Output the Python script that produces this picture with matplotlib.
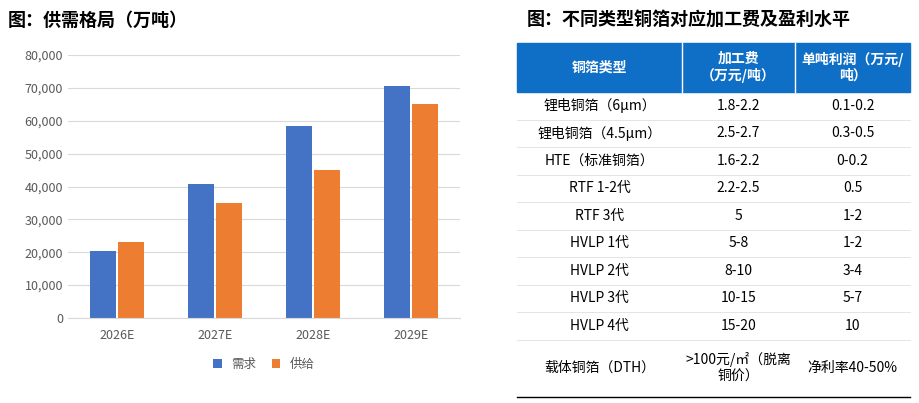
import matplotlib
matplotlib.use("Agg")
import matplotlib.pyplot as plt
import numpy as np

plt.rcParams['font.family'] = ['Noto Sans CJK SC', 'DejaVu Sans']

years = ['2026E', '2027E', '2028E', '2029E']
demand = [20500, 40700, 58300, 70700]
supply = [23200, 35000, 45000, 65000]

header = ['铜箔类型', '加工费\n（万元/吨）', '单吨利润（万元/\n吨）']
rows = [
    ['锂电铜箔（6μm）', '1.8-2.2', '0.1-0.2'],
    ['锂电铜箔（4.5μm）', '2.5-2.7', '0.3-0.5'],
    ['HTE（标准铜箔）', '1.6-2.2', '0-0.2'],
    ['RTF 1-2代', '2.2-2.5', '0.5'],
    ['RTF 3代', '5', '1-2'],
    ['HVLP 1代', '5-8', '1-2'],
    ['HVLP 2代', '8-10', '3-4'],
    ['HVLP 3代', '10-15', '5-7'],
    ['HVLP 4代', '15-20', '10'],
    ['载体铜箔（DTH）', '>100元/㎡（脱离\n铜价）', '净利率40-50%'],
]

W, H = 919, 403
fig = plt.figure(figsize=(W / 100, H / 100), dpi=100)

# bar chart
ax = fig.add_axes([68 / W, 1 - 318 / H, (460 - 68) / W, (318 - 55) / H])
x = np.arange(len(years))
bw = 0.27
ax.bar(x - bw / 2 - 0.01, demand, bw, color='#4472c4', label='需求')
ax.bar(x + bw / 2 + 0.01, supply, bw, color='#ed7d31', label='供给')
ax.set_ylim(0, 80000)
ax.set_xlim(-0.5, 3.5)
ax.set_yticks(range(0, 80001, 10000))
ax.set_yticklabels([f'{v:,}' for v in range(0, 80001, 10000)])
ax.set_xticks(x)
ax.set_xticklabels(years)
ax.tick_params(length=0, labelsize=9, colors='#595959')
ax.tick_params(axis='x', pad=8)
ax.grid(axis='y', color='#d9d9d9', lw=0.8)
ax.set_axisbelow(True)
for s in ['top', 'right', 'left']:
    ax.spines[s].set_visible(False)
ax.spines['bottom'].set_color('#d9d9d9')
ax.legend(loc='upper center', bbox_to_anchor=(0.5, -0.11), ncol=2, frameon=False,
          fontsize=9, handlelength=0.7, handleheight=0.7, columnspacing=1.2,
          labelcolor='#595959')

fig.text(8 / W, 1 - 20 / H, '图：供需格局（万吨）', fontsize=13, fontweight='bold', va='center')
fig.text(527 / W, 1 - 20 / H, '图：不同类型铜箔对应加工费及盈利水平', fontsize=13,
         fontweight='bold', va='center')

# table
tx = fig.add_axes([0, 0, 1, 1])
tx.set_xlim(0, W)
tx.set_ylim(H, 0)
tx.axis('off')
cols = [517, 682, 795, 910]
top, head_b, row_h = 43, 92, 27.5
tx.add_patch(plt.Rectangle((cols[0], top), cols[-1] - cols[0], head_b - top, color='#0f6fc6'))
for c in cols[1:-1]:
    tx.plot([c, c], [top, head_b], color='white', lw=1)
for i, h in enumerate(header):
    tx.text((cols[i] + cols[i + 1]) / 2, (top + head_b) / 2, h, color='white', fontsize=10,
            fontweight='bold', ha='center', va='center', linespacing=1.2)
y = head_b
for r, row in enumerate(rows):
    last = r == len(rows) - 1
    hgt = 57 if last else row_h
    for i, t in enumerate(row):
        tx.text((cols[i] + cols[i + 1]) / 2, y + hgt / 2, t, fontsize=10,
                ha='center', va='center', linespacing=1.3)
    y += hgt
    tx.plot([cols[0], cols[-1]], [y, y], color='black' if last else '#d9d9d9',
            lw=1 if last else 0.5)

fig.savefig('out.png', dpi=100)
